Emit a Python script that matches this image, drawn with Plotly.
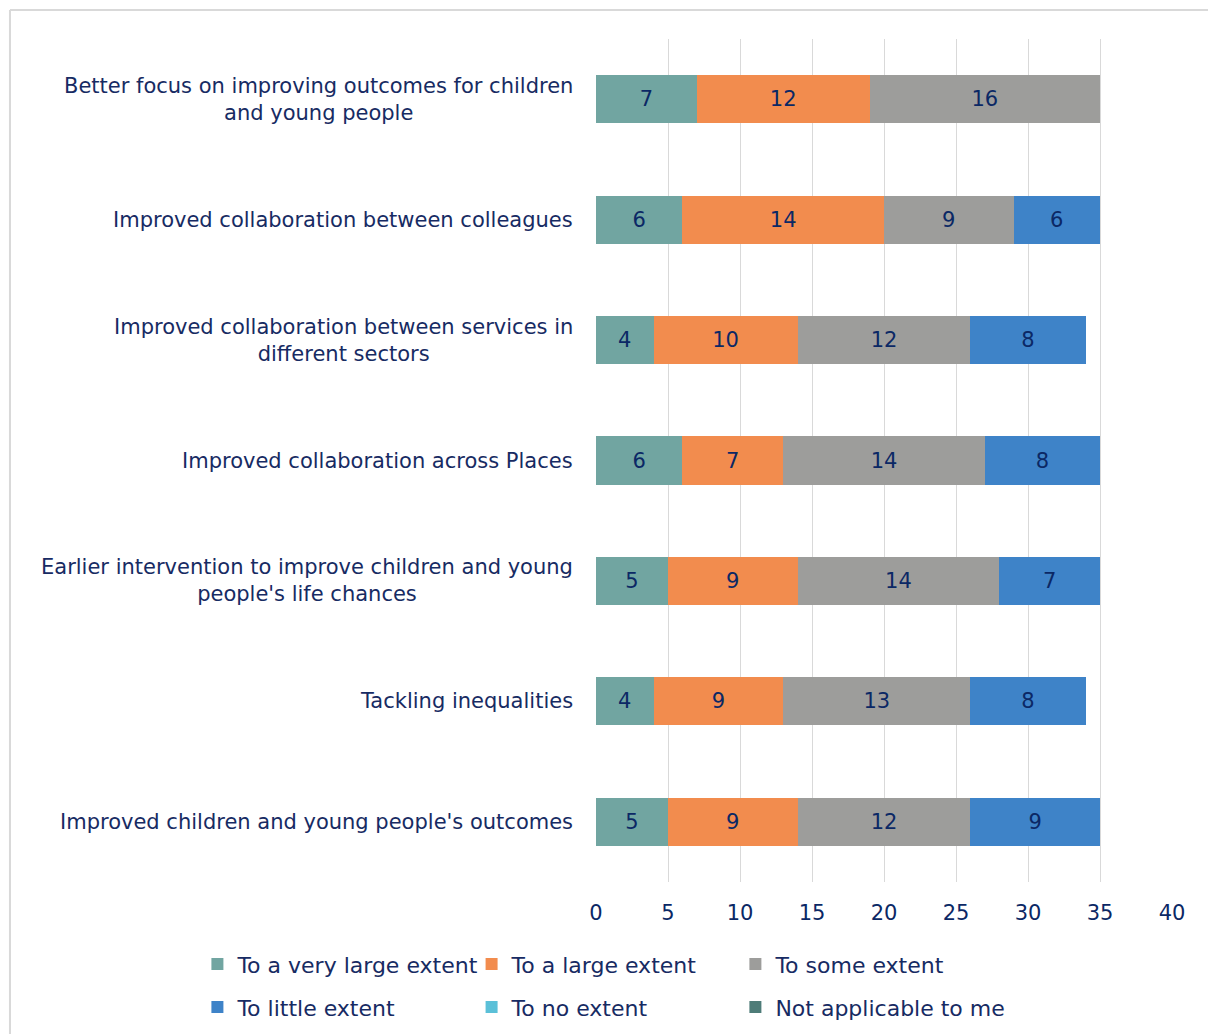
import plotly.graph_objects as go

# Survey statements (top to bottom) and their wrapped display labels
categories = [
    "Better focus on improving outcomes for children and young people",
    "Improved collaboration between colleagues",
    "Improved collaboration between services in different sectors",
    "Improved collaboration across Places",
    "Earlier intervention to improve children and young people's life chances",
    "Tackling inequalities",
    "Improved children and young people's outcomes",
]
category_labels = [
    "Better focus on improving outcomes for children<br>and young people",
    "Improved collaboration between colleagues",
    "Improved collaboration between services in<br>different sectors",
    "Improved collaboration across Places",
    "Earlier intervention to improve children and young<br>people's life chances",
    "Tackling inequalities",
    "Improved children and young people's outcomes",
]

# Response counts per statement
very_large = [7, 6, 4, 6, 5, 4, 5]
large = [12, 14, 10, 7, 9, 9, 9]
some = [16, 9, 12, 14, 14, 13, 12]
little = [None, 6, 8, 8, 7, 8, 9]
no_extent = [None, None, None, None, None, None, None]
not_applicable = [None, None, None, None, None, None, None]

x_ticks = [0, 5, 10, 15, 20, 25, 30, 35, 40]

series = [
    ("To a very large extent", very_large, "#71A5A1"),
    ("To a large extent", large, "#F28C4E"),
    ("To some extent", some, "#9D9D9B"),
    ("To little extent", little, "#3E83C8"),
    ("To no extent", no_extent, "#5BC0D8"),
    ("Not applicable to me", not_applicable, "#4E7C78"),
]

FONT = "DejaVu Sans"
TEXT = "#172B63"
NAVY = "#0B2865"

# Legend laid out as a 3 x 2 grid: one legend box per entry
legend_cols = [-0.692, -0.216, 0.242]
legend_rows = [-0.0725, -0.1235]
legend_ids = ["legend", "legend2", "legend3", "legend4", "legend5", "legend6"]

fig = go.Figure()
for (name, vals, color), leg in zip(series, legend_ids):
    fig.add_trace(go.Bar(
        y=categories, x=vals, name=name, orientation="h",
        marker=dict(color=color, line=dict(width=0)),
        width=0.4, legend=leg,
        text=vals, texttemplate="%{x}", textposition="inside",
        insidetextanchor="middle",
        textfont=dict(family=FONT, size=21, color=NAVY),
    ))

# Category labels, centred line-by-line and right-aligned against the plot
for cat, lab in zip(categories, category_labels):
    fig.add_annotation(
        x=-0.0365, xref="paper", y=cat, yref="y",
        text=lab, showarrow=False, xanchor="right", align="center",
        font=dict(family=FONT, size=21, color=TEXT),
    )

# Chart frame (left and top edges)
fig.add_shape(type="line", xref="paper", yref="paper",
              x0=-1.0174, x1=-1.0174, y0=1.0344, y1=-0.3,
              line=dict(color="#D9D9D9", width=2))
fig.add_shape(type="line", xref="paper", yref="paper",
              x0=-1.0174, x1=1.2, y0=1.0344, y1=1.0344,
              line=dict(color="#D9D9D9", width=2))

legends = {}
for i, leg in enumerate(legend_ids):
    legends[leg] = dict(
        orientation="h", x=legend_cols[i % 3], y=legend_rows[i // 3],
        xanchor="left", yanchor="top",
        font=dict(family=FONT, size=22, color=TEXT),
        itemclick=False, bgcolor="rgba(0,0,0,0)",
    )

fig.update_layout(
    width=1208, height=1034,
    margin=dict(l=596, r=36, t=39, b=152, autoexpand=False),
    barmode="stack",
    plot_bgcolor="white", paper_bgcolor="white",
    font=dict(family=FONT, size=21, color=TEXT),
    showlegend=True,
    xaxis=dict(
        range=[0, 40], tickvals=x_ticks, showgrid=True,
        gridcolor="#D9D9D9", gridwidth=1, zeroline=False,
        showline=False, ticks="", ticklabelstandoff=16,
        tickfont=dict(family=FONT, size=21, color=NAVY),
    ),
    yaxis=dict(
        categoryorder="array", categoryarray=categories,
        autorange="reversed", showticklabels=False,
        showgrid=False, zeroline=False, showline=False,
    ),
    **legends,
)

fig.write_html("out.html")
